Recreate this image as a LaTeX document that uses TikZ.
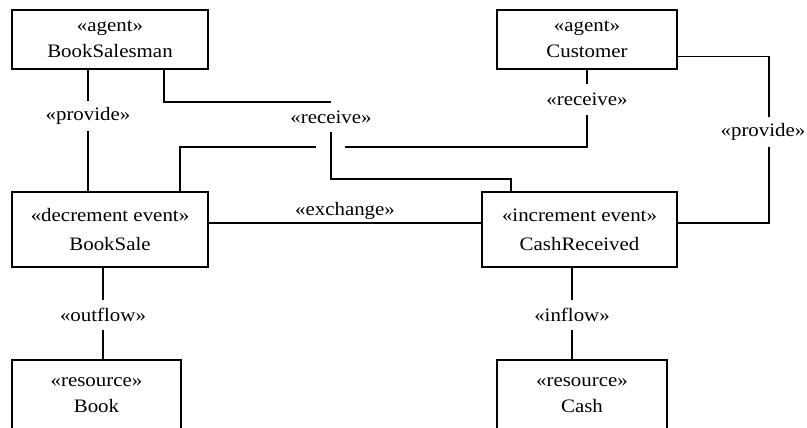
\documentclass[tikz,border=0pt]{standalone}
\usepackage{fontspec}
\setmainfont{Liberation Serif}[FakeStretch=1.1]
\begin{document}
\begin{tikzpicture}[x=1pt,y=-1pt,
  box/.style={draw,line width=1.6pt,inner sep=0pt,align=center,
    font=\fontsize{19}{26}\selectfont},
  evbox/.style={box,font=\fontsize{19}{29}\selectfont},
  lbl/.style={inner sep=0pt,minimum height=30pt,font=\fontsize{19}{23}\selectfont},
  conn/.style={line width=1.6pt}]
\clip (0,0) rectangle (807,428);
% boxes
\node[box,minimum width=196pt,minimum height=59pt] (bsm) at (110,39.5) {«agent»\\BookSalesman};
\node[box,minimum width=180pt,minimum height=59pt] (cust) at (587,39.5) {«agent»\\Customer};
\node[evbox,minimum width=196pt,minimum height=75pt] (bsale) at (110,229.5) {«decrement event»\\BookSale};
\node[evbox,minimum width=195pt,minimum height=75pt] (cashr) at (579.5,229.5) {«increment event»\\CashReceived};
\node[box,minimum width=169pt,minimum height=70pt] (book) at (96.5,395) {«resource»\\Book};
\node[box,minimum width=170pt,minimum height=70pt] (cash) at (582,395) {«resource»\\Cash};
% labels
\node[lbl] (provL) at (88,116) {«provide»};
\node[lbl] (recvM) at (331,117) {«receive»};
\node[lbl] (recvR) at (587,99.5) {«receive»};
\node[lbl] (provR) at (763,132) {«provide»};
\node[lbl] (outf) at (103,315) {«outflow»};
\node[lbl] (inf) at (572,315) {«inflow»};
\coordinate (gapL) at (316,147);
\coordinate (gapR) at (345,147);
\coordinate (provX) at (769,132);
% connectors
\draw[conn] (bsm.south -| provL) -- (provL.north);
\draw[conn] (provL.south) -- (bsale.north -| provL);
\draw[conn] ([xshift=-45pt]bsm.south east) |- (recvM.north);
\draw[conn] (recvM.south) -- ++(0,47) -| ([xshift=30pt]cashr.north west);
\draw[conn] ([xshift=-29pt]bsale.north east) |- (gapL);
\draw[conn] (gapR) -| (recvR.south);
\draw[conn] (recvR.north) -- (cust.south -| recvR);
\draw[conn] ([yshift=-17pt]cust.east) -| (provR.north -| provX);
\draw[conn] (provR.south -| provX) |- ([yshift=6.5pt]cashr.east);
\draw[conn] ([yshift=6.5pt]bsale.east) -- node[above=3pt,inner sep=0pt,font=\fontsize{19}{23}\selectfont] (exch) {«exchange»} ([yshift=6.5pt]cashr.west);
\draw[conn] (bsale.south -| outf) -- (outf.north);
\draw[conn] (outf.south) -- (book.north -| outf);
\draw[conn] (cashr.south -| inf) -- (inf.north);
\draw[conn] (inf.south) -- (cash.north -| inf);
\end{tikzpicture}
\end{document}
